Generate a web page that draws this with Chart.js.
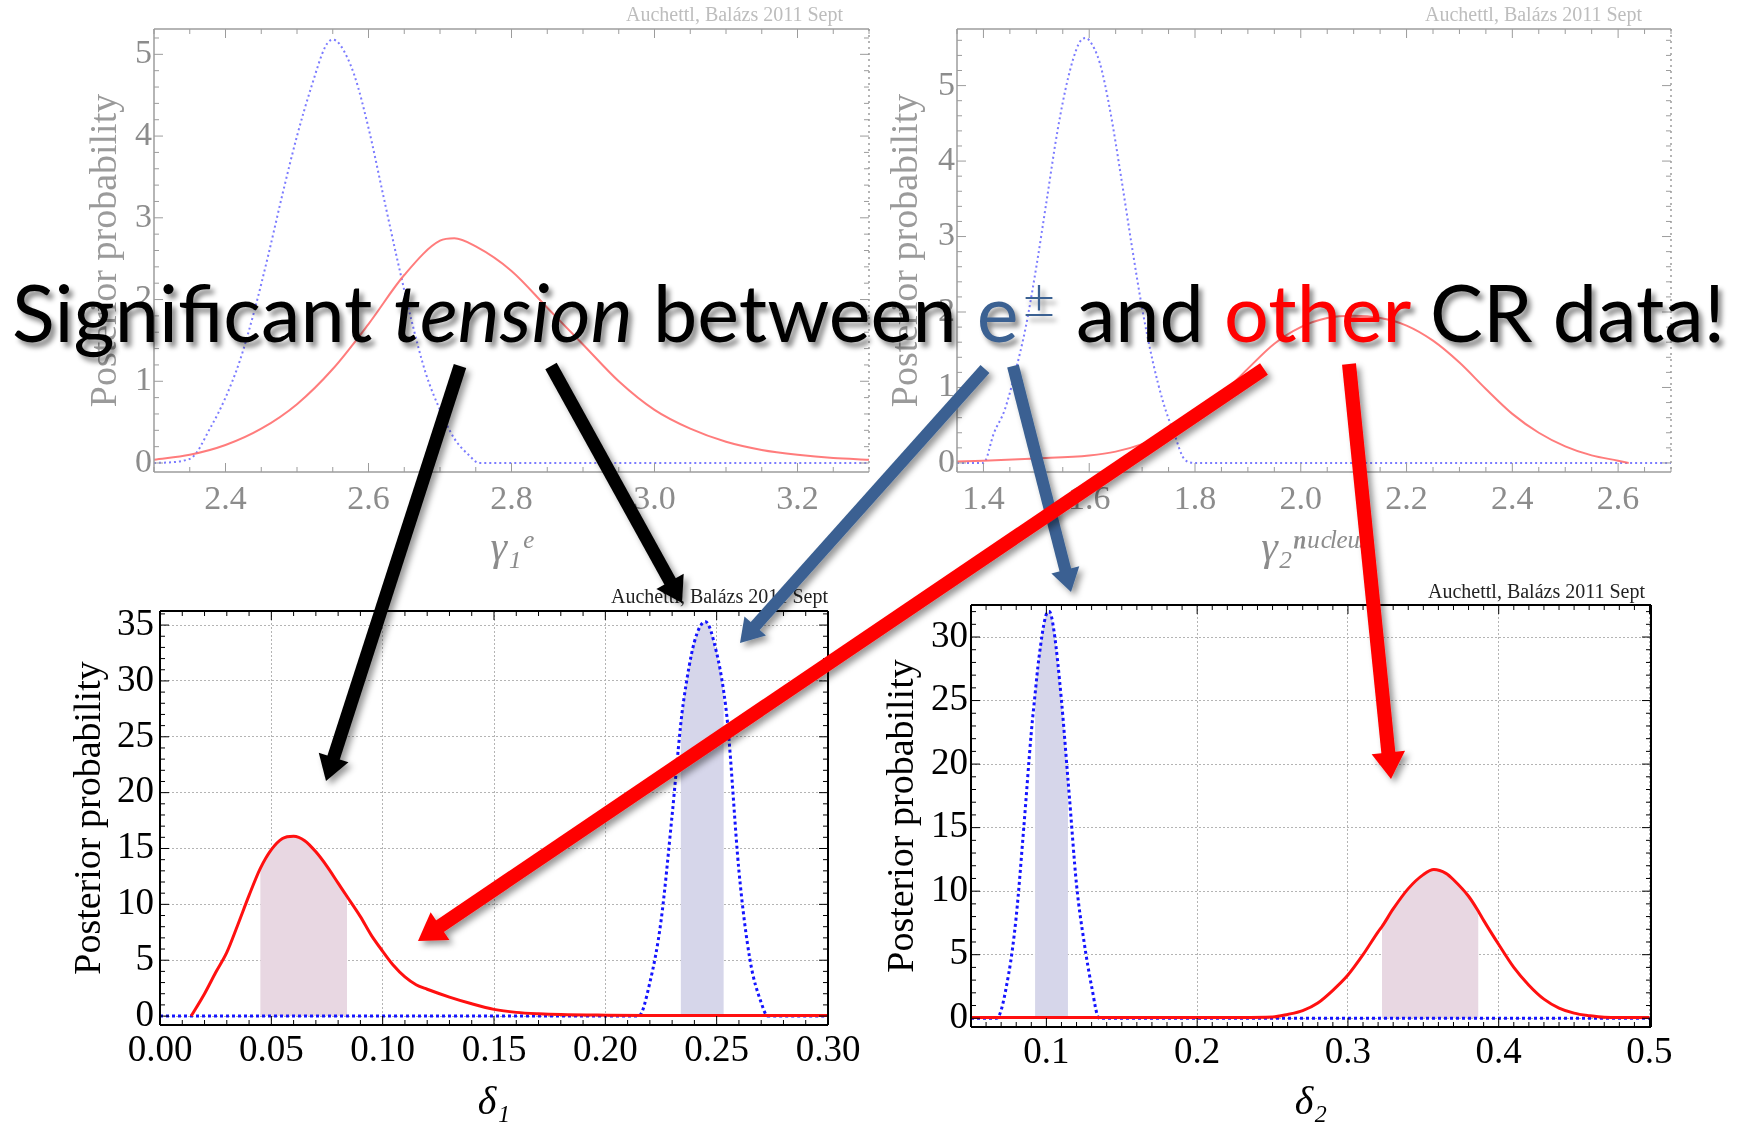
<!DOCTYPE html>
<html>
<head>
<meta charset="utf-8">
<script src="https://cdn.jsdelivr.net/npm/chart.js@4.4.1/dist/chart.umd.min.js"></script>
<style>
  html, body { margin: 0; padding: 0; background: #fff; }
  body { width: 1746px; height: 1123px; position: relative; overflow: hidden; }
  .panel { position: absolute; }
  #arrows { position: absolute; left: 0; top: 0; }
  #headline {
    position: absolute; left: 12px; top: 271px;
    font-family: Lato, "Open Sans", sans-serif; font-size: 80px; line-height: 1;
    white-space: nowrap; color: #000;
    text-shadow: 4px 5px 5px rgba(0,0,0,0.45);
    transform-origin: 0 0;
  }
  #headline .ep { color: #3b6192; }
  #headline .ep sup { font-size: 0.72em; font-weight: 300; vertical-align: 0.42em; line-height: 0; margin-left: 4px; }
  #headline .other { color: #ff0000; }
</style>
</head>
<body>
<div class="panel" style="left:0;top:0"><canvas id="c1" width="880" height="580"></canvas></div>
<div class="panel" style="left:880px;top:0"><canvas id="c2" width="866" height="580"></canvas></div>
<div class="panel" style="left:0;top:560px"><canvas id="c3" width="880" height="563"></canvas></div>
<div class="panel" style="left:880px;top:560px"><canvas id="c4" width="866" height="563"></canvas></div>
<svg id="arrows" width="1746" height="1123"></svg>
<div id="headline">Significant <i>tension</i> between <span class="ep">e<sup>±</sup></span> and <span class="other">other</span> CR data!</div>

<script>
// ---- data ----
// top left: gamma_1^e
const g1XTicks = [2.4, 2.6, 2.8, 3.0, 3.2];
const g1YTicks = [0, 1, 2, 3, 4, 5];
const g1BlueX = [2.30, 2.35, 2.38, 2.40, 2.42, 2.44, 2.46, 2.48, 2.50, 2.52, 2.54, 2.55, 2.56, 2.58, 2.60, 2.62, 2.64, 2.66, 2.68, 2.70, 2.72, 2.74, 2.755, 2.80, 3.30];
const g1BlueY = [0, 0.05, 0.45, 0.8, 1.25, 1.85, 2.55, 3.3, 4.0, 4.6, 5.1, 5.18, 5.12, 4.75, 4.1, 3.3, 2.5, 1.75, 1.1, 0.65, 0.3, 0.1, 0, 0, 0];
const g1RedX = [2.30, 2.35, 2.40, 2.45, 2.50, 2.55, 2.60, 2.65, 2.70, 2.72, 2.75, 2.80, 2.85, 2.90, 2.95, 3.00, 3.05, 3.10, 3.15, 3.20, 3.25, 3.30];
const g1RedY = [0.04, 0.1, 0.22, 0.42, 0.72, 1.15, 1.7, 2.3, 2.72, 2.75, 2.65, 2.35, 1.9, 1.45, 1.0, 0.65, 0.42, 0.26, 0.16, 0.1, 0.06, 0.04];

// top right: gamma_2^nucleus
const g2XTicks = [1.4, 1.6, 1.8, 2.0, 2.2, 2.4, 2.6];
const g2YTicks = [0, 1, 2, 3, 4, 5];
const g2BlueX = [1.35, 1.40, 1.42, 1.44, 1.46, 1.48, 1.50, 1.52, 1.54, 1.56, 1.58, 1.593, 1.60, 1.62, 1.64, 1.66, 1.68, 1.70, 1.72, 1.74, 1.76, 1.78, 1.80, 2.70];
const g2BlueY = [0, 0, 0.4, 0.7, 1.2, 1.8, 2.6, 3.5, 4.4, 5.1, 5.55, 5.63, 5.6, 5.3, 4.65, 3.8, 2.9, 2.05, 1.35, 0.8, 0.4, 0.05, 0, 0];
const g2RedX = [1.35, 1.40, 1.50, 1.60, 1.65, 1.70, 1.75, 1.80, 1.85, 1.90, 1.95, 2.00, 2.05, 2.10, 2.15, 2.20, 2.25, 2.30, 2.35, 2.40, 2.45, 2.50, 2.55, 2.60, 2.62];
const g2RedY = [0.02, 0.03, 0.06, 0.1, 0.15, 0.25, 0.4, 0.6, 0.9, 1.25, 1.58, 1.8, 1.92, 1.95, 1.92, 1.82, 1.62, 1.33, 0.98, 0.65, 0.4, 0.22, 0.1, 0.03, 0];

// bottom left: delta_1
const d1XTicks = [0, 0.05, 0.10, 0.15, 0.20, 0.25, 0.30];
const d1YTicks = [0, 5, 10, 15, 20, 25, 30, 35];
const d1BlueX = [0, 0.215, 0.22, 0.225, 0.23, 0.2338, 0.235, 0.24, 0.245, 0.25, 0.2532, 0.255, 0.26, 0.265, 0.27, 0.273, 0.30];
const d1BlueY = [0, 0, 3, 8.5, 18, 26, 28, 33.5, 35.3, 32.5, 29, 26, 13, 5, 1.2, 0, 0];
const d1RedX = [0.014, 0.02, 0.025, 0.03, 0.035, 0.04, 0.045, 0.05, 0.055, 0.06, 0.065, 0.07, 0.075, 0.08, 0.084, 0.09, 0.095, 0.10, 0.105, 0.11, 0.115, 0.12, 0.13, 0.14, 0.15, 0.16, 0.17, 0.18, 0.20, 0.22, 0.25, 0.30];
const d1RedY = [0, 2.0, 3.9, 5.7, 8.2, 10.8, 13.2, 14.9, 15.9, 16.1, 15.7, 14.7, 13.4, 11.9, 10.7, 8.9, 7.2, 5.8, 4.5, 3.5, 2.8, 2.4, 1.7, 1.1, 0.6, 0.33, 0.2, 0.13, 0.08, 0.06, 0.05, 0.05];
const d1BlueBand = [0.2338, 0.2532];
const d1RedBand = [0.045, 0.084];

// bottom right: delta_2
const d2XTicks = [0.1, 0.2, 0.3, 0.4, 0.5];
const d2YTicks = [0, 5, 10, 15, 20, 25, 30];
const d2BlueX = [0.05, 0.067, 0.075, 0.08, 0.085, 0.09, 0.0925, 0.095, 0.10, 0.102, 0.105, 0.11, 0.1143, 0.115, 0.12, 0.125, 0.13, 0.135, 0.50];
const d2BlueY = [0, 0, 3.5, 8, 15, 22.5, 25.5, 28.3, 31.8, 32, 30.5, 25, 18.8, 17.8, 10.5, 6, 2.5, 0, 0];
const d2RedX = [0.05, 0.20, 0.25, 0.26, 0.27, 0.28, 0.29, 0.30, 0.31, 0.32, 0.3225, 0.33, 0.34, 0.35, 0.357, 0.365, 0.37, 0.38, 0.3866, 0.39, 0.40, 0.41, 0.42, 0.43, 0.44, 0.45, 0.46, 0.47, 0.50];
const d2RedY = [0.05, 0.05, 0.1, 0.3, 0.6, 1.2, 2.2, 3.4, 5.0, 6.8, 7.2, 8.6, 10.2, 11.3, 11.7, 11.4, 10.9, 9.6, 8.4, 7.7, 5.8, 4.0, 2.6, 1.5, 0.8, 0.4, 0.2, 0.08, 0.05];
const d2BlueBand = [0.0925, 0.1143];
const d2RedBand = [0.3225, 0.3866];

const creditText = 'Auchettl, Balázs 2011 Sept';
const yLabel = 'Posterior probability';

// ---- helpers ----
const pts = (xs, ys) => xs.map((x, i) => ({ x: x, y: ys[i] }));
const band = (xs, ys, lim) => pts(xs, ys).filter(p => p.x >= lim[0] && p.x <= lim[1]);
const serif = '"Liberation Serif", "Times New Roman", "DejaVu Serif", serif';

// frame with inward ticks on all sides, like the Mathematica frame
const framePlugin = {
  id: 'frame',
  afterDatasetsDraw(chart, args, o) {
    const { ctx, chartArea: a, scales } = chart;
    const sx = scales.x, sy = scales.y;
    const line = (x1, y1, x2, y2) => { ctx.beginPath(); ctx.moveTo(x1, y1); ctx.lineTo(x2, y2); ctx.stroke(); };
    const steps = (min, max, step) => {
      const out = [];
      for (let k = Math.ceil(min / step - 1e-9); k * step <= max + 1e-9; k++) out.push(k * step);
      return out;
    };
    ctx.save();
    ctx.strokeStyle = o.color;
    ctx.lineWidth = o.tickWidth;
    steps(sx.min, sx.max, o.xMinor).forEach(v => {
      const px = sx.getPixelForValue(v);
      const len = o.xMajor.some(m => Math.abs(m - v) < 1e-9) ? o.majorLen : o.minorLen;
      line(px, a.bottom, px, a.bottom - len);
      line(px, a.top, px, a.top + len);
    });
    steps(sy.min, sy.max, o.yMinor).forEach(v => {
      const py = sy.getPixelForValue(v);
      const len = o.yMajor.some(m => Math.abs(m - v) < 1e-9) ? o.majorLen : o.minorLen;
      line(a.left, py, a.left + len, py);
      line(a.right, py, a.right - len, py);
    });
    ctx.lineWidth = o.width;
    line(a.left, a.top, a.right, a.top);
    line(a.left, a.top, a.left, a.bottom);
    line(a.left, a.bottom, a.right, a.bottom);
    if (o.rightDash) ctx.setLineDash(o.rightDash);
    line(a.right, a.top, a.right, a.bottom);
    ctx.restore();
  }
};

const creditPlugin = {
  id: 'credit',
  afterDraw(chart, args, o) {
    const ctx = chart.ctx;
    ctx.save();
    ctx.font = o.font;
    ctx.fillStyle = o.color;
    ctx.textAlign = 'right';
    ctx.textBaseline = 'alphabetic';
    ctx.fillText(creditText, o.x, o.y);
    ctx.restore();
  }
};

function makePanel(id, p) {
  const faded = p.faded;
  const tickColor = faded ? '#8c8c8c' : '#000';
  const blue = faded
    ? { borderColor: 'rgba(100,100,255,0.85)', borderWidth: 2, borderDash: [2, 3] }
    : { borderColor: '#1414ff', borderWidth: 3, borderDash: [3, 3] };
  const red = faded
    ? { borderColor: 'rgba(255,110,110,0.9)', borderWidth: 2 }
    : { borderColor: '#ff1010', borderWidth: 3 };
  const common = { showLine: true, pointRadius: 0, cubicInterpolationMode: 'monotone', fill: false };
  const datasets = [
    Object.assign({ data: p.red, order: 1 }, common, red),
    Object.assign({ data: p.blue, order: 2 }, common, blue)
  ];
  (p.bands || []).forEach(b => datasets.push(Object.assign({}, common, {
    data: b.data, order: 5, borderWidth: 0, borderColor: 'rgba(0,0,0,0)',
    backgroundColor: b.color, fill: 'origin'
  })));

  return new Chart(document.getElementById(id), {
    type: 'scatter',
    data: { datasets: datasets },
    options: {
      responsive: false,
      animation: false,
      devicePixelRatio: 1,
      layout: { padding: p.pad },
      plugins: {
        legend: { display: false },
        tooltip: { enabled: false },
        frame: {
          color: faded ? '#9c9c9c' : '#000', width: faded ? 1.5 : 2, tickWidth: 1,
          rightDash: faded ? [2, 4] : null,
          xMajor: p.xTicks, yMajor: p.yTicks, xMinor: p.xMinor, yMinor: p.yMinor,
          majorLen: 9, minorLen: 5
        },
        credit: p.credit
      },
      scales: {
        x: {
          type: 'linear', min: p.xMin, max: p.xMax,
          afterBuildTicks: s => { s.ticks = p.xTicks.map(v => ({ value: v })); },
          afterFit: s => { s.height = p.xH; },
          ticks: {
            autoSkip: false, maxRotation: 0, minRotation: 0, padding: p.xTickPad,
            color: tickColor, font: { family: serif, size: p.xTickSize },
            callback: v => Number(v).toFixed(p.dec)
          },
          grid: { display: !faded, drawTicks: false, color: '#b4b4b4', lineWidth: 1 },
          border: { display: false, dash: [2, 2] },
          title: {
            display: true, text: p.xTitle, color: tickColor,
            font: { family: serif, size: p.xTitleSize, style: 'italic', lineHeight: 1 },
            padding: { top: 0, bottom: p.xTitlePad }
          }
        },
        y: {
          type: 'linear', min: p.yMin, max: p.yMax,
          afterBuildTicks: s => { s.ticks = p.yTicks.map(v => ({ value: v })); },
          afterFit: s => { s.width = p.yW; },
          ticks: {
            autoSkip: false, padding: p.yTickPad,
            color: tickColor, font: { family: serif, size: p.yTickSize }
          },
          grid: { display: !faded, drawTicks: false, color: '#b4b4b4', lineWidth: 1 },
          border: { display: false, dash: [2, 2] },
          title: {
            display: true, text: yLabel, color: faded ? '#9a9a9a' : '#000',
            font: { family: serif, size: 38, lineHeight: 1 },
            padding: { top: p.yTitlePad, bottom: 0 }
          }
        }
      }
    },
    plugins: [framePlugin, creditPlugin]
  });
}

const fadedCredit = { font: '20px ' + serif, color: '#bdbdbd' };
const darkCredit = { font: '20px ' + serif, color: '#222' };

makePanel('c1', {
  faded: true, pad: { top: 29, right: 11, left: 0, bottom: 0 }, yW: 154, xH: 108,
  xMin: 2.3, xMax: 3.3, yMin: -0.11, yMax: 5.31, xTicks: g1XTicks, yTicks: g1YTicks,
  xMinor: 0.05, yMinor: 0.2, dec: 1,
  xTickSize: 34, yTickSize: 34, xTickPad: 8, yTickPad: 2, yTitlePad: 87, xTitle: 'γ₁ᵉ', xTitleSize: 42, xTitlePad: 10,
  blue: pts(g1BlueX, g1BlueY), red: pts(g1RedX, g1RedY),
  credit: Object.assign({ x: 843, y: 21 }, fadedCredit)
});

makePanel('c2', {
  faded: true, pad: { top: 29, right: 75, left: 0, bottom: 0 }, yW: 77, xH: 108,
  xMin: 1.35, xMax: 2.70, yMin: -0.12, yMax: 5.75, xTicks: g2XTicks, yTicks: g2YTicks,
  xMinor: 0.05, yMinor: 0.2, dec: 1,
  xTickSize: 34, yTickSize: 34, xTickPad: 8, yTickPad: 2, yTitlePad: 8, xTitle: 'γ₂ⁿᵘᶜˡᵉᵘˢ', xTitleSize: 42, xTitlePad: 10,
  blue: pts(g2BlueX, g2BlueY), red: pts(g2RedX, g2RedY),
  credit: Object.assign({ x: 762, y: 21 }, fadedCredit)
});

makePanel('c3', {
  faded: false, pad: { top: 51, right: 52, left: 0, bottom: 0 }, yW: 160, xH: 98,
  xMin: 0, xMax: 0.3, yMin: -0.8, yMax: 36.26, xTicks: d1XTicks, yTicks: d1YTicks,
  xMinor: 0.01, yMinor: 1, dec: 2,
  xTickSize: 37, yTickSize: 37, xTickPad: 4, yTickPad: 6, yTitlePad: 71, xTitle: 'δ₁', xTitleSize: 40, xTitlePad: 0,
  blue: pts(d1BlueX, d1BlueY), red: pts(d1RedX, d1RedY),
  bands: [
    { data: band(d1RedX, d1RedY, d1RedBand), color: '#e8d7e2' },
    { data: band(d1BlueX, d1BlueY, d1BlueBand), color: '#d6d6ea' }
  ],
  credit: Object.assign({ x: 828, y: 43 }, darkCredit)
});

makePanel('c4', {
  faded: false, pad: { top: 45, right: 95, left: 0, bottom: 0 }, yW: 91, xH: 96,
  xMin: 0.05, xMax: 0.501, yMin: -0.69, yMax: 32.52, xTicks: d2XTicks, yTicks: d2YTicks,
  xMinor: 0.01, yMinor: 1, dec: 1,
  xTickSize: 37, yTickSize: 37, xTickPad: 4, yTickPad: 3, yTitlePad: 4, xTitle: 'δ₂', xTitleSize: 40, xTitlePad: 0,
  blue: pts(d2BlueX, d2BlueY), red: pts(d2RedX, d2RedY),
  bands: [
    { data: band(d2RedX, d2RedY, d2RedBand), color: '#e8d7e2' },
    { data: band(d2BlueX, d2BlueY, d2BlueBand), color: '#d6d6ea' }
  ],
  credit: Object.assign({ x: 765, y: 38 }, darkCredit)
});

// ---- annotation arrows ----
const arrowSpecs = [
  { from: [460, 366], to: [326, 781], color: '#000000', w: 13 },
  { from: [551, 366], to: [682, 603], color: '#000000', w: 13 },
  { from: [985, 369], to: [740, 643], color: '#3b6192', w: 12 },
  { from: [1013, 366], to: [1071, 592], color: '#3b6192', w: 12 },
  { from: [1264, 369], to: [418, 941], color: '#ff0000', w: 14 },
  { from: [1349, 364], to: [1391, 779], color: '#ff0000', w: 14 }
];
const svg = document.getElementById('arrows');
const NS = 'http://www.w3.org/2000/svg';
svg.innerHTML = '<defs><filter id="sh" x="-20%" y="-20%" width="140%" height="140%">' +
  '<feDropShadow dx="4" dy="4" stdDeviation="3" flood-color="#000" flood-opacity="0.4"/></filter></defs>';
arrowSpecs.forEach(a => {
  const dx = a.to[0] - a.from[0], dy = a.to[1] - a.from[1];
  const len = Math.hypot(dx, dy), ux = dx / len, uy = dy / len;
  const headL = a.w * 1.9, headW = a.w * 1.2;
  const bx = a.to[0] - ux * headL, by = a.to[1] - uy * headL;
  const g = document.createElementNS(NS, 'g');
  g.setAttribute('filter', 'url(#sh)');
  const ln = document.createElementNS(NS, 'line');
  ln.setAttribute('x1', a.from[0]); ln.setAttribute('y1', a.from[1]);
  ln.setAttribute('x2', bx + ux * 2); ln.setAttribute('y2', by + uy * 2);
  ln.setAttribute('stroke', a.color); ln.setAttribute('stroke-width', a.w);
  const head = document.createElementNS(NS, 'polygon');
  head.setAttribute('points', [
    [a.to[0], a.to[1]],
    [bx - uy * headW, by + ux * headW],
    [bx + uy * headW, by - ux * headW]
  ].map(q => q.join(',')).join(' '));
  head.setAttribute('fill', a.color);
  g.appendChild(ln); g.appendChild(head);
  svg.appendChild(g);
});

// stretch the headline to the width it has on the slide
const hl = document.getElementById('headline');
const hw = hl.getBoundingClientRect().width;
hl.style.transform = 'scaleX(' + (1713 / hw) + ')';
</script>
</body>
</html>
